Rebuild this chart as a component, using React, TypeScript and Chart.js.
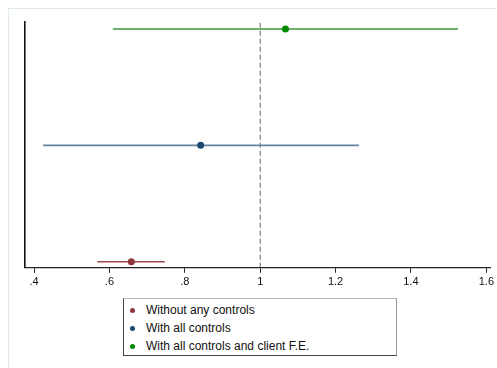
import React, { useEffect, useRef } from "react";
import { Chart, registerables } from "chart.js";

Chart.register(...registerables);

const seriesNames = ["Without any controls", "With all controls", "With all controls and client F.E."];
const estimates = [0.658, 0.842, 1.067];
const lowerBounds = [0.568, 0.424, 0.609];
const upperBounds = [0.747, 1.262, 1.525];
const rowPositions = [1, 2, 3];
const pointColors = ["#90353b", "#1a476f", "#008a00"];
const lineColors = ["#a04850", "#6783a0", "#3c9a3c"];
const xTickValues = [0.4, 0.6, 0.8, 1.0, 1.2, 1.4, 1.6];
const referenceX = 1;

const fmt = (v: number) => {
  const s = (Math.round(v * 10) / 10).toString();
  return s.startsWith("0.") ? s.slice(1) : s;
};

export default function App() {
  const ref = useRef<HTMLCanvasElement | null>(null);
  useEffect(() => {
    if (!ref.current) return;
    const datasets: any[] = seriesNames.map((name, i) => ({
      label: name,
      data: [
        { x: lowerBounds[i], y: rowPositions[i] },
        { x: estimates[i], y: rowPositions[i] },
        { x: upperBounds[i], y: rowPositions[i] },
      ],
      showLine: true,
      borderColor: lineColors[i],
      borderWidth: 1.6,
      pointRadius: [0, 3.5, 0],
      pointBackgroundColor: pointColors[i],
      pointBorderColor: pointColors[i],
      pointBorderWidth: 0,
    }));
    datasets.push({
      label: "ref",
      data: [
        { x: referenceX, y: 0.948 },
        { x: referenceX, y: 3.06 },
      ],
      showLine: true,
      borderColor: "#606060",
      borderWidth: 1,
      borderDash: [5, 3],
      pointRadius: 0,
    });
    const chart = new Chart(ref.current, {
      type: "scatter",
      data: { datasets },
      options: {
        animation: false,
        responsive: false,
        maintainAspectRatio: false,
        layout: { padding: { left: 17, top: 14, right: 0, bottom: 0 } },
        plugins: { legend: { display: false }, tooltip: { enabled: false } },
        scales: {
          x: {
            type: "linear",
            min: 0.376,
            max: 1.612,
            afterBuildTicks: (scale: any) => {
              scale.ticks = xTickValues.map((v) => ({ value: v }));
            },
            ticks: {
              color: "#111",
              font: { family: "Liberation Sans", size: 11 },
              padding: 3,
              maxRotation: 0,
              autoSkip: false,
              callback: (v: any) => fmt(Number(v)),
            },
            grid: { drawOnChartArea: false, drawTicks: true, tickLength: 5, color: "#222" },
            border: { display: true, color: "#222", width: 1.2 },
          },
          y: {
            type: "linear",
            min: 0.948,
            max: 3.06,
            ticks: { display: false },
            grid: { display: false, drawTicks: false },
            border: { display: true, color: "#111", width: 1.6 },
          },
        },
      },
    });
    return () => chart.destroy();
  }, []);

  const legendItem = (i: number) => (
    <div key={i} style={{ display: "flex", alignItems: "center", height: 18 }}>
      <span
        style={{
          display: "inline-block",
          width: 5,
          height: 5,
          borderRadius: 3,
          background: pointColors[i],
          marginLeft: 6,
          marginRight: 11,
        }}
      />
      <span>{seriesNames[i]}</span>
    </div>
  );

  return (
    <div style={{ position: "fixed", left: 0, top: 0, width: 497, height: 368, overflow: "hidden", background: "#fff" }}>
      <div
        style={{
          position: "absolute",
          left: 8,
          top: 8,
          width: 520,
          height: 400,
          borderTop: "1px solid #dfe9ee",
          borderLeft: "1px solid #dfe9ee",
        }}
      />
      <canvas ref={ref} width={489} height={284} style={{ position: "absolute", left: 8, top: 8, width: 489, height: 284 }} />
      <div
        style={{
          position: "absolute",
          left: 123,
          top: 298,
          width: 274,
          height: 58,
          borderTop: "1px solid #b8b8b8",
          borderRight: "1px solid #999",
          borderLeft: "1px solid #444",
          borderBottom: "1px solid #444",
          fontFamily: "Liberation Sans, Arial, sans-serif",
          fontSize: 12,
          color: "#111",
          paddingTop: 2,
          boxSizing: "border-box",
        }}
      >
        {[0, 1, 2].map(legendItem)}
      </div>
    </div>
  );
}
